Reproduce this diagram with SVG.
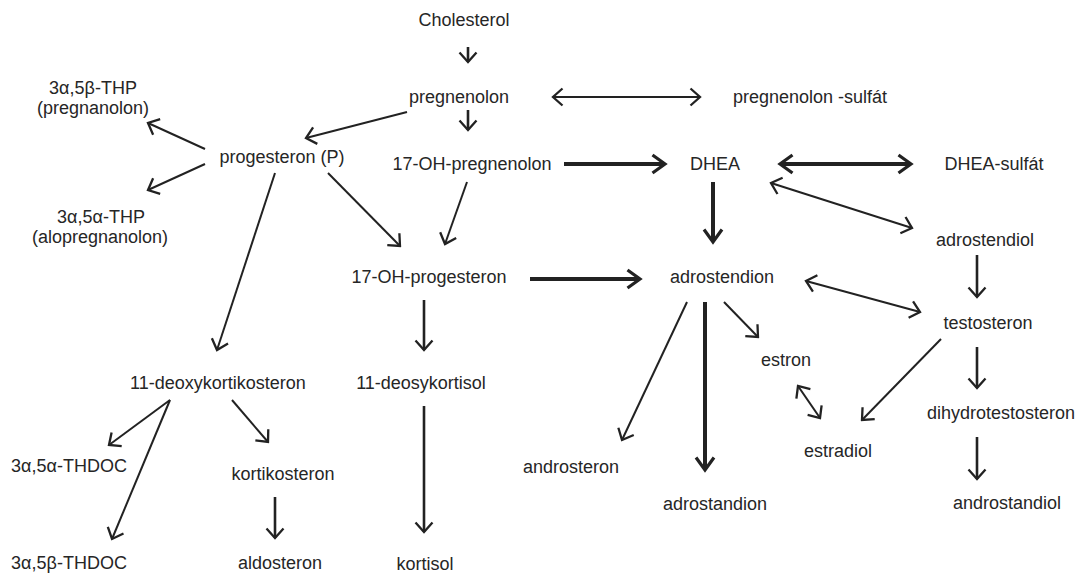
<svg xmlns="http://www.w3.org/2000/svg" width="1080" height="573" viewBox="0 0 1080 573">
<style>
text{font-family:"Liberation Sans",Arial,sans-serif;font-size:18px;fill:#262626;text-anchor:middle}
.c{fill:none;stroke:#222;stroke-width:2}
.m{stroke-width:2.6}
.t{stroke-width:4}
</style>
<defs>
<marker id="a" viewBox="0 0 14 22" refX="12" refY="11" markerWidth="14" markerHeight="22" markerUnits="userSpaceOnUse" orient="auto-start-reverse"><path d="M2.5,2.5 L12,11 L2.5,19.5" fill="none" stroke="#222" stroke-width="2.3"/></marker>
<marker id="b" viewBox="0 0 18 22" refX="15" refY="11" markerWidth="18" markerHeight="22" markerUnits="userSpaceOnUse" orient="auto-start-reverse"><path d="M2.5,2 L15,11 L2.5,20" fill="none" stroke="#222" stroke-width="3.2"/></marker>
</defs>
<rect width="1080" height="573" fill="#fff"/>
<g id="connectors">
<line class="c m" x1="468" y1="47" x2="468" y2="62" marker-end="url(#a)"/>
<line class="c m" x1="468" y1="110" x2="468" y2="130" marker-end="url(#a)"/>
<line class="c" x1="553" y1="97" x2="700" y2="97" marker-start="url(#a)" marker-end="url(#a)"/>
<line class="c t" x1="564" y1="164" x2="665" y2="164" marker-end="url(#b)"/>
<line class="c t" x1="780" y1="164" x2="911" y2="164" marker-start="url(#b)" marker-end="url(#b)"/>
<line class="c" x1="407" y1="112" x2="306" y2="138" marker-end="url(#a)"/>
<line class="c" x1="205" y1="149" x2="148" y2="123" marker-end="url(#a)"/>
<line class="c" x1="205" y1="164" x2="148" y2="190" marker-end="url(#a)"/>
<line class="c" x1="275" y1="173" x2="217" y2="350" marker-end="url(#a)"/>
<line class="c" x1="328" y1="173" x2="400" y2="246" marker-end="url(#a)"/>
<line class="c" x1="467" y1="182" x2="445" y2="244" marker-end="url(#a)"/>
<line class="c t" x1="530" y1="279" x2="640" y2="279" marker-end="url(#b)"/>
<line class="c t" x1="713" y1="182" x2="713" y2="242" marker-end="url(#b)"/>
<line class="c" x1="771" y1="183" x2="912" y2="228" marker-start="url(#a)" marker-end="url(#a)"/>
<line class="c m" x1="977" y1="255" x2="977" y2="297" marker-end="url(#a)"/>
<line class="c" x1="806" y1="281" x2="920" y2="312" marker-start="url(#a)" marker-end="url(#a)"/>
<line class="c m" x1="977" y1="347" x2="977" y2="388" marker-end="url(#a)"/>
<line class="c m" x1="977" y1="437" x2="977" y2="479" marker-end="url(#a)"/>
<line class="c" x1="941" y1="339" x2="862" y2="420" marker-end="url(#a)"/>
<line class="c" x1="724" y1="302" x2="758" y2="337" marker-end="url(#a)"/>
<line class="c" x1="798" y1="386" x2="820" y2="418" marker-start="url(#a)" marker-end="url(#a)"/>
<line class="c" x1="687" y1="302" x2="622" y2="440" marker-end="url(#a)"/>
<line class="c t" x1="705" y1="302" x2="705" y2="470" marker-end="url(#b)"/>
<line class="c m" x1="424" y1="300" x2="424" y2="350" marker-end="url(#a)"/>
<line class="c m" x1="424" y1="406" x2="424" y2="532" marker-end="url(#a)"/>
<line class="c" x1="170" y1="400" x2="109" y2="445" marker-end="url(#a)"/>
<line class="c" x1="170" y1="400" x2="112" y2="539" marker-end="url(#a)"/>
<line class="c" x1="232" y1="400" x2="268" y2="442" marker-end="url(#a)"/>
<line class="c m" x1="275" y1="497" x2="275" y2="538" marker-end="url(#a)"/>
</g>
<g id="n-cholesterol"><text x="464" y="26">Cholesterol</text></g>
<g id="n-pregnenolon"><text x="459" y="103">pregnenolon</text></g>
<g id="n-pregnenolon-sulfat"><text x="810" y="103">pregnenolon -sulfát</text></g>
<g id="n-17oh-pregnenolon"><text x="472" y="170">17-OH-pregnenolon</text></g>
<g id="n-dhea"><text x="715" y="170">DHEA</text></g>
<g id="n-dhea-sulfat"><text x="994" y="170">DHEA-sulfát</text></g>
<g id="n-thp-b"><text x="93" y="94">3α,5β-THP</text><text x="93" y="114">(pregnanolon)</text></g>
<g id="n-progesteron"><text x="282" y="163">progesteron (P)</text></g>
<g id="n-thp-a"><text x="101" y="223">3α,5α-THP</text><text x="100" y="243">(alopregnanolon)</text></g>
<g id="n-17oh-progesteron"><text x="429" y="283">17-OH-progesteron</text></g>
<g id="n-adrostendion"><text x="722" y="283">adrostendion</text></g>
<g id="n-adrostendiol"><text x="985" y="246">adrostendiol</text></g>
<g id="n-testosteron"><text x="988" y="329">testosteron</text></g>
<g id="n-estron"><text x="786" y="366">estron</text></g>
<g id="n-estradiol"><text x="838" y="457">estradiol</text></g>
<g id="n-dht"><text x="1001" y="419">dihydrotestosteron</text></g>
<g id="n-androstandiol"><text x="1007" y="509">androstandiol</text></g>
<g id="n-androsteron"><text x="571" y="473">androsteron</text></g>
<g id="n-adrostandion"><text x="715" y="510">adrostandion</text></g>
<g id="n-11-deosykortisol"><text x="421" y="389">11-deosykortisol</text></g>
<g id="n-kortisol"><text x="425" y="570">kortisol</text></g>
<g id="n-11-deoxykortikosteron"><text x="218" y="389">11-deoxykortikosteron</text></g>
<g id="n-thdoc-a"><text x="69" y="472">3α,5α-THDOC</text></g>
<g id="n-kortikosteron"><text x="283" y="480">kortikosteron</text></g>
<g id="n-thdoc-b"><text x="69" y="569">3α,5β-THDOC</text></g>
<g id="n-aldosteron"><text x="280" y="569">aldosteron</text></g>
</svg>
